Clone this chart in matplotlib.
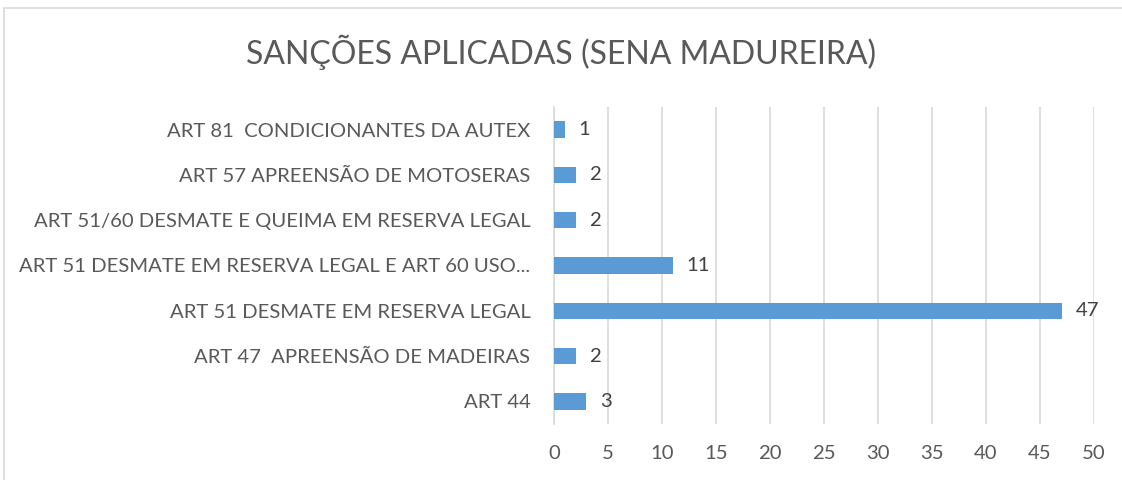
import matplotlib
matplotlib.use("Agg")
import matplotlib.pyplot as plt
from matplotlib.patches import Rectangle

categories = [
    "ART 44",
    "ART 47  APREENSÃO DE MADEIRAS",
    "ART 51 DESMATE EM RESERVA LEGAL",
    "ART 51 DESMATE EM RESERVA LEGAL E ART 60 USO...",
    "ART 51/60 DESMATE E QUEIMA EM RESERVA LEGAL",
    "ART 57 APREENSÃO DE MOTOSERAS",
    "ART 81  CONDICIONANTES DA AUTEX",
]
values = [3, 2, 47, 11, 2, 2, 1]
xticks = [0, 5, 10, 15, 20, 25, 30, 35, 40, 45, 50]

plt.rcParams['font.family'] = ['Lato', 'DejaVu Sans']
W, H = 1122, 480
fig = plt.figure(figsize=(W/100, H/100), dpi=100)
ax = fig.add_axes([554/W, 1-424/H, 540/W, (424-107)/H])

bar_color = "#5B9BD5"
text_color = "#595959"
fs = 14.6
ax.barh(range(len(categories)), values, height=0.36, color=bar_color, zorder=3)
for i, v in enumerate(values):
    ax.annotate(str(v), (v, i), xytext=(10, 0), textcoords="offset points",
                va="center", ha="left", fontsize=fs, color="#404040")

ax.set_xlim(0, 50)
ax.set_ylim(-0.5, len(categories) - 0.5)
ax.set_xticks(xticks)
ax.set_xticklabels([str(t) for t in xticks], fontsize=fs, color=text_color)
ax.set_yticks(range(len(categories)))
ax.set_yticklabels(categories, fontsize=fs, color=text_color)
ax.tick_params(axis="x", length=0, pad=15)
ax.tick_params(axis="y", length=0, pad=17)
ax.grid(axis="x", color="#d9d9d9", linewidth=1.2, zorder=0)
for s in ["top", "right", "bottom"]:
    ax.spines[s].set_visible(False)
ax.spines["left"].set_color("#d9d9d9")
ax.spines["left"].set_linewidth(1.2)

fig.text(0.5, 1-52/H, "SANÇÕES APLICADAS (SENA MADUREIRA)", ha="center", va="center",
         fontsize=23, color=text_color)

fig.patches.append(Rectangle((4/W, -0.1), 1.2, 1-8/H+0.1, transform=fig.transFigure,
                             fill=False, edgecolor="#d9d9d9", linewidth=1.2))

fig.savefig("out.png", dpi=100, facecolor="white")
